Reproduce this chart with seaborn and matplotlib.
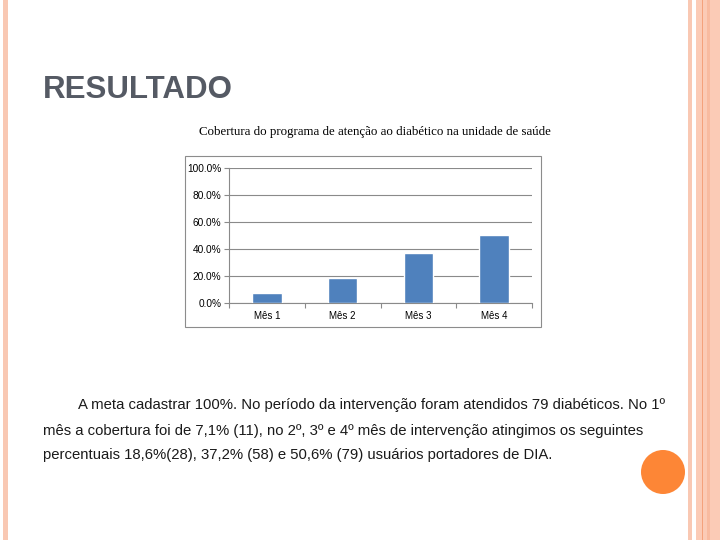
import matplotlib
matplotlib.use("Agg")
import matplotlib.pyplot as plt
import matplotlib.patches as mpatches
import seaborn as sns
import pandas as pd
from matplotlib.ticker import FuncFormatter, FixedLocator

# data
meses = ["Mês 1", "Mês 2", "Mês 3", "Mês 4"]
cobertura = [7.1, 18.6, 37.2, 50.6]
yticks = [0, 20, 40, 60, 80, 100]

slide_title = "RESULTADO"
chart_title = "Cobertura do programa de atenção ao diabético na unidade de saúde"
texto = [
    "A meta cadastrar 100%. No período da intervenção foram atendidos 79 diabéticos. No 1º",
    "mês a cobertura foi de 7,1% (11), no 2º, 3º e 4º mês de intervenção atingimos os seguintes",
    "percentuais 18,6%(28), 37,2% (58) e 50,6% (79) usuários portadores de DIA.",
]

sns.set_theme(style="white")
plt.rcParams["font.family"] = ["Liberation Sans", "DejaVu Sans"]

W, H = 720, 540
fig = plt.figure(figsize=(7.2, 5.4), dpi=100)
fig.patch.set_facecolor("white")


def fx(px):
    return px / W


def fy(py):
    return 1 - py / H


# slide decorations (pixel coordinates on a full-figure axes)
bg = fig.add_axes([0, 0, 1, 1], zorder=0)
bg.set_xlim(0, W)
bg.set_ylim(H, 0)
bg.axis("off")
peach = "#F9C8B3"
bg.add_patch(mpatches.Rectangle((3, 0), 5, H, color=peach, lw=0))
bg.add_patch(mpatches.Rectangle((688, 0), 4, H, color=peach, lw=0))
bg.add_patch(mpatches.Rectangle((696, 0), 24, H, color="#FBCBB6", lw=0))
bg.add_patch(mpatches.Rectangle((702, 0), 1.3, H, color="#F4A27C", lw=0))
bg.add_patch(mpatches.Rectangle((707, 0), 3, H, color="#F8BBA0", lw=0))
bg.add_patch(mpatches.Circle((663, 472), 22, color="#FD8636", lw=0))

# chart frame
bg.add_patch(mpatches.Rectangle((185, 156), 356, 171, fill=False,
                                edgecolor="#8C8C8C", lw=0.8))

bg.text(43, 90, slide_title, fontsize=22.5, color="#555A64", weight="bold",
        ha="left", va="center", family=["Liberation Sans", "DejaVu Sans"])
bg.text(375, 132, chart_title, fontsize=9.3, color="black", ha="center",
        va="center", family=["Liberation Serif", "DejaVu Serif"])

narrow = ["Liberation Sans Narrow", "Liberation Sans", "DejaVu Sans"]
bg.text(78, 405, texto[0], fontsize=10.7, ha="left", va="center",
        color="#1A1A1A", family=narrow)
bg.text(43, 431, texto[1], fontsize=10.7, ha="left", va="center",
        color="#1A1A1A", family=narrow)
bg.text(43, 455, texto[2], fontsize=10.7, ha="left", va="center",
        color="#1A1A1A", family=narrow)

# bar chart
df = pd.DataFrame({"mes": meses, "cobertura": cobertura})
ax = fig.add_axes([fx(229), fy(303), fx(532) - fx(229), fy(168) - fy(303)], zorder=2)
ax.patch.set_alpha(0)
sns.barplot(data=df, x="mes", y="cobertura", color="#4F81BD", width=0.39,
            saturation=1, ax=ax, zorder=3)

ax.set_ylim(0, 100)
ax.set_xlim(-0.5, 3.5)
ax.set_yticks(yticks)
ax.yaxis.set_major_formatter(FuncFormatter(lambda v, _: f"{v:.1f}%"))
ax.yaxis.grid(True, color="#8A8A8A", lw=0.8)
ax.set_axisbelow(True)
ax.set_xlabel("")
ax.set_ylabel("")

for s in ["top", "right"]:
    ax.spines[s].set_visible(False)
for s in ["left", "bottom"]:
    ax.spines[s].set_color("#8A8A8A")
    ax.spines[s].set_linewidth(0.8)

ax.tick_params(axis="y", left=True, length=3.5, width=0.8, color="#8A8A8A",
               labelsize=7.3, pad=2, labelcolor="black")
ax.tick_params(axis="x", bottom=False, length=0, labelsize=7, pad=6,
               labelcolor="black")
ax.xaxis.set_minor_locator(FixedLocator([-0.5, 0.5, 1.5, 2.5, 3.5]))
ax.tick_params(axis="x", which="minor", bottom=True, length=3.5, width=0.8,
               color="#8A8A8A")

fig.savefig("out.png", dpi=100, facecolor="white")
